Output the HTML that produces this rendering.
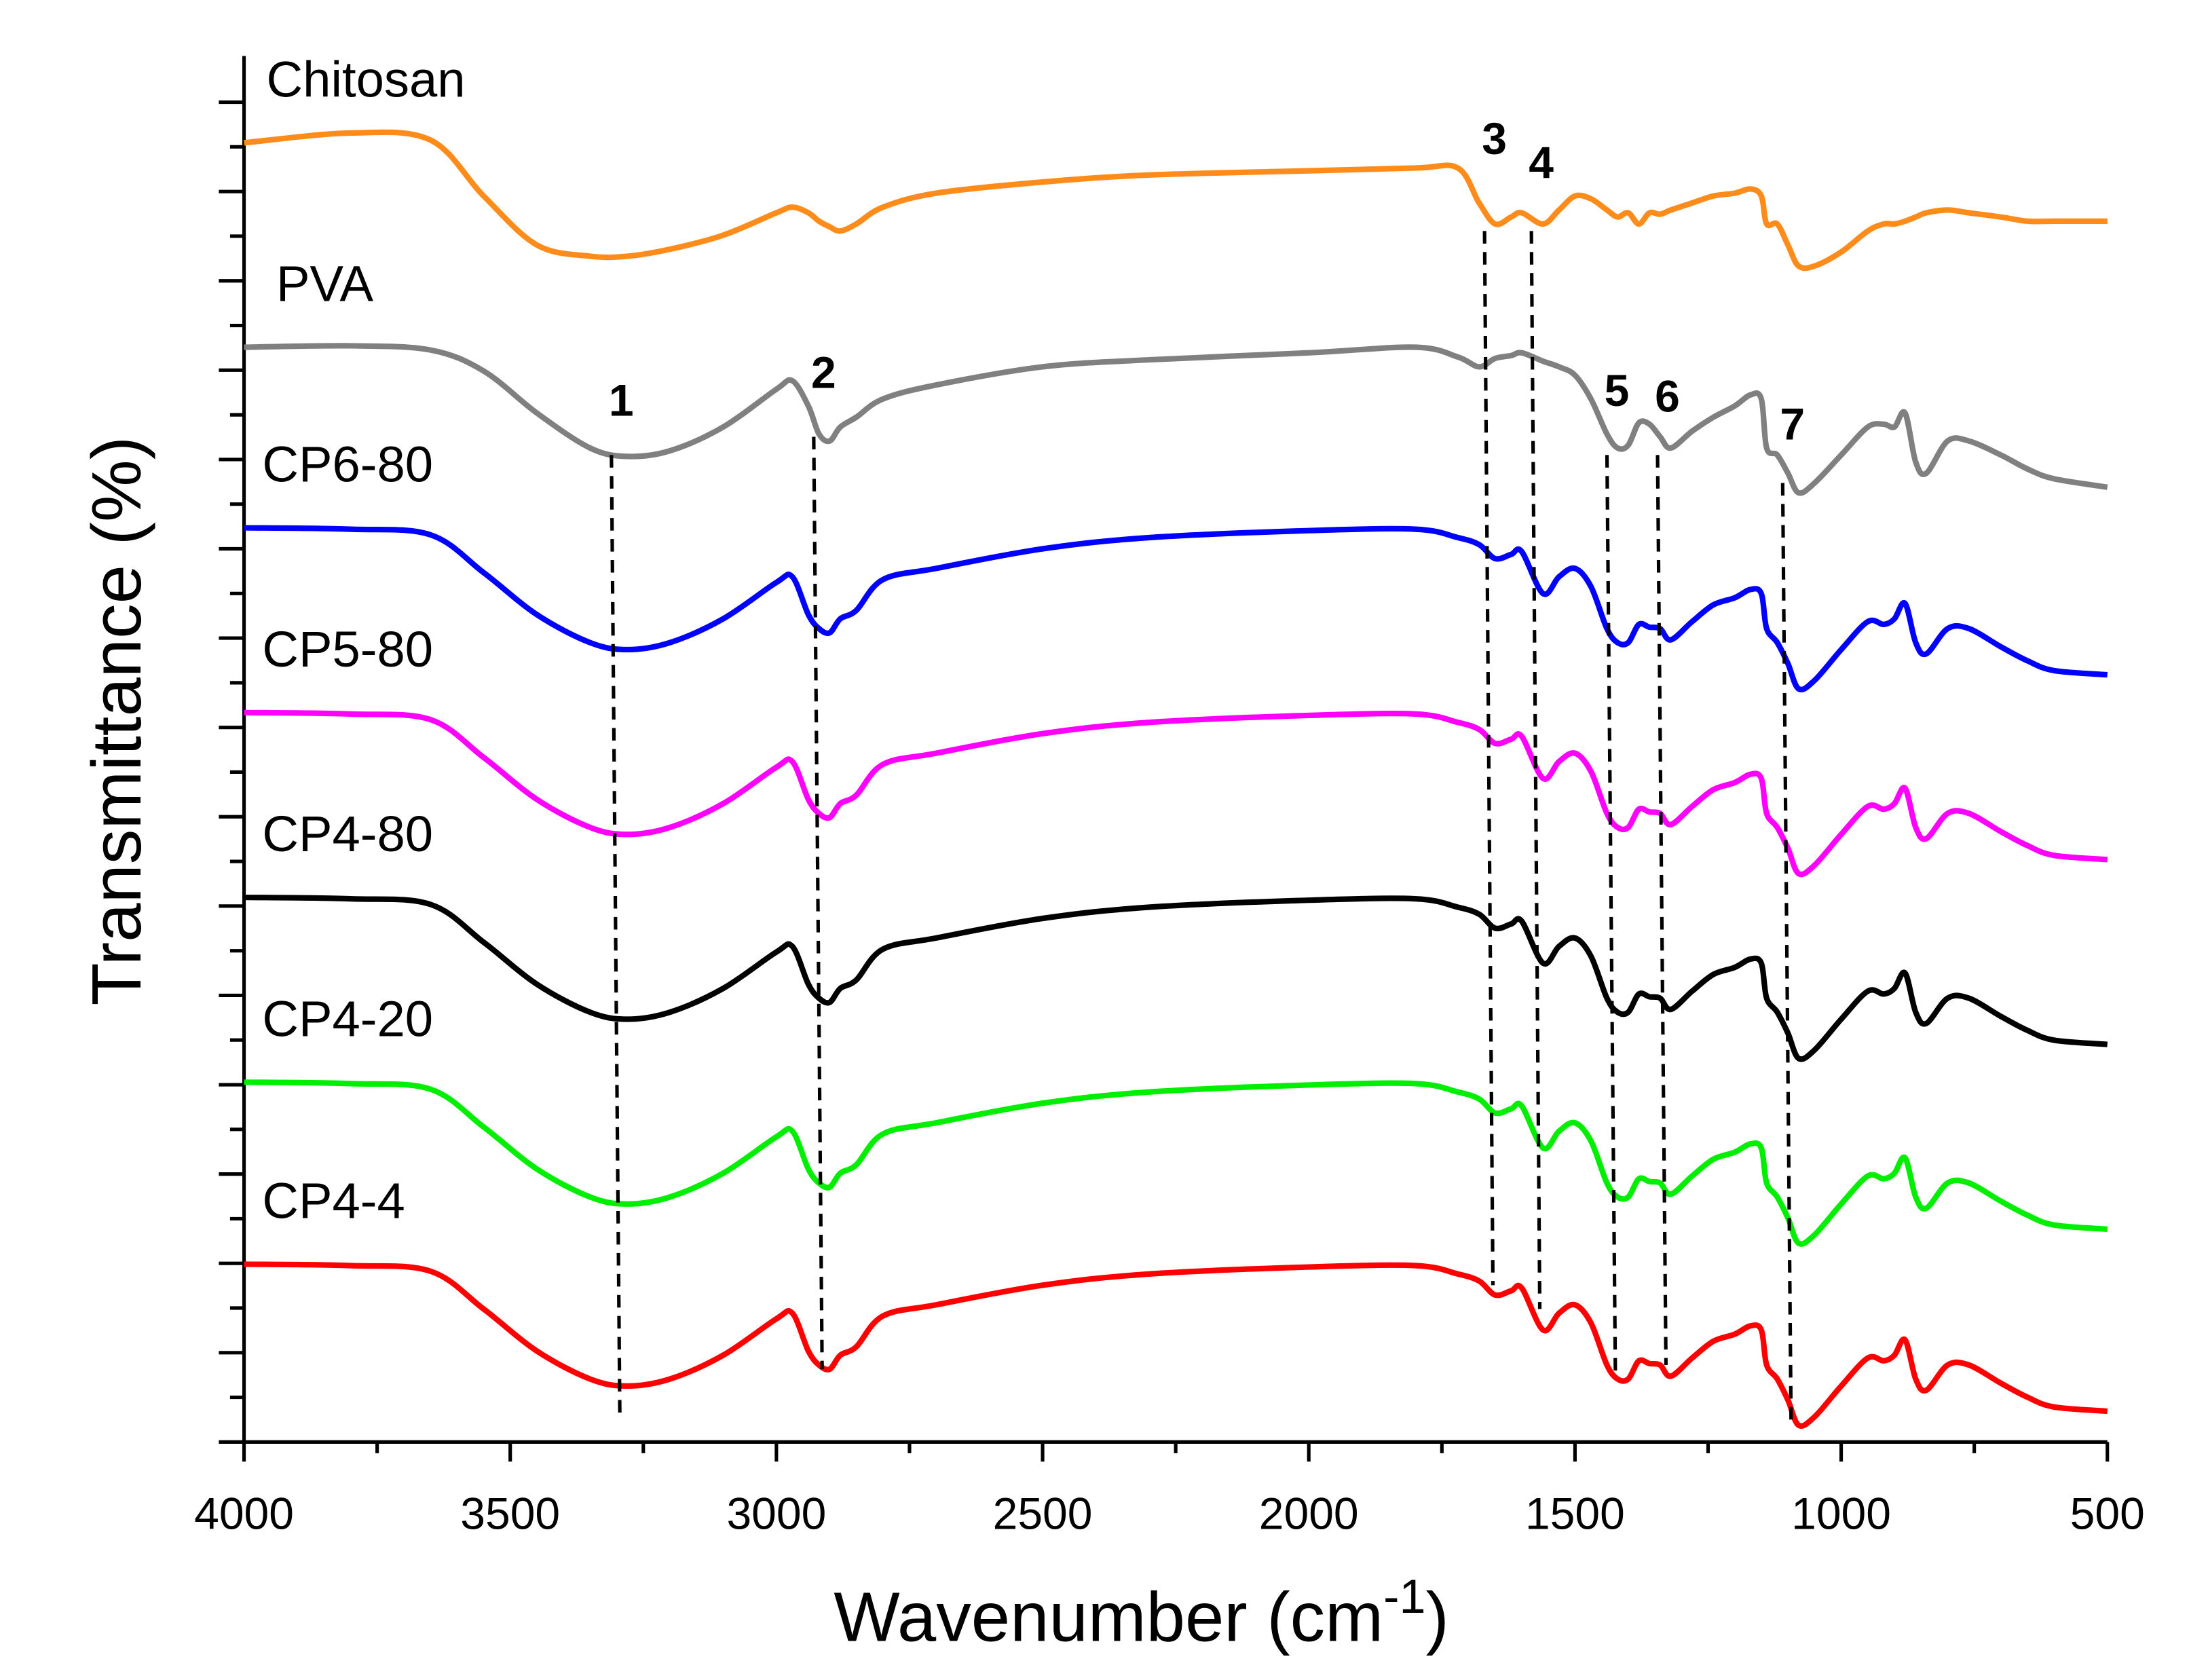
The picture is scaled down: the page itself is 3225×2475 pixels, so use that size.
<!DOCTYPE html>
<html><head><meta charset="utf-8"><style>
html,body{margin:0;padding:0;background:#fff;}
svg{display:block;font-family:"Liberation Sans",sans-serif;}
</style></head><body>
<svg id="chart" width="3225" height="2475" viewBox="0 0 1563 1200" xmlns="http://www.w3.org/2000/svg">
<rect width="1563" height="1200" fill="#fff"/>
<g id="axes"></g>
<g id="series"></g>
<g id="marks"></g>
<text x="815" y="1172" font-size="50" text-anchor="middle">Wavenumber (cm<tspan dy="-20" font-size="34">-1</tspan><tspan dy="20">)</tspan></text>
<text transform="translate(100,515) rotate(-90)" font-size="50" text-anchor="middle">Transmittance (%)</text>
</svg>
<script>
const wavenumbers=[4000,3800,3650,3550,3450,3350,3280,3200,3100,3000,2970,2940,2920,2900,2880,2850,2800,2700,2500,2300,2000,1800,1720,1680,1650,1620,1600,1560,1530,1500,1470,1440,1420,1400,1380,1360,1340,1320,1280,1240,1200,1170,1150,1140,1120,1100,1080,1050,1000,950,920,900,880,860,840,800,760,700,650,600,500];
const chitosan=[92.8,93.5,93.0,89.0,85.5,84.7,84.7,85.2,86.2,87.8,88.2,87.8,87.2,86.8,86.5,87.0,88.2,89.2,90.0,90.5,90.8,91.0,91.0,88.5,87.0,87.5,87.8,87.0,88.0,89.0,88.8,88.0,87.5,87.8,87.0,87.8,87.7,88.0,88.5,89.0,89.2,89.5,89.0,87.0,87.0,85.5,84.0,84.0,85.0,86.5,87.0,87.0,87.2,87.5,87.8,88.0,87.8,87.5,87.2,87.2,87.2];
const pva=[78.2,78.3,78.0,76.5,73.5,71.0,70.4,70.8,72.5,75.2,75.8,74.0,72.0,71.5,72.5,73.2,74.5,75.5,76.8,77.3,77.8,78.2,77.5,76.8,77.4,77.6,77.8,77.2,76.8,76.2,74.5,72.0,71.0,71.2,72.8,72.7,71.8,71.0,72.2,73.2,74.0,74.8,74.5,71.0,70.5,69.2,67.8,68.5,70.5,72.5,72.7,72.5,73.5,70.0,69.2,71.5,71.5,70.5,69.5,68.8,68.2];
const cp680=[65.3,65.2,64.8,62.1,59.1,57.1,56.6,57.1,58.8,61.4,61.8,59.1,58.1,57.8,58.8,59.4,61.6,62.4,63.8,64.6,65.1,65.2,64.6,64.1,63.1,63.4,63.6,60.6,61.8,62.4,61.1,58.1,57.1,57.1,58.4,58.2,58.1,57.3,58.6,59.8,60.3,60.9,60.6,58.1,57.1,55.6,53.8,54.4,56.6,58.6,58.4,58.8,59.9,57.1,56.3,58.1,58.1,56.8,55.8,55.1,54.8];
const cp580=[52.1,52.0,51.6,48.9,45.9,43.9,43.4,43.9,45.6,48.2,48.6,45.9,44.9,44.6,45.6,46.2,48.4,49.2,50.6,51.4,51.9,52.0,51.4,50.9,49.9,50.2,50.4,47.4,48.6,49.2,47.9,44.9,43.9,43.9,45.2,45.0,44.9,44.1,45.4,46.6,47.1,47.7,47.4,44.9,43.9,42.4,40.6,41.2,43.4,45.4,45.2,45.6,46.7,43.9,43.1,44.9,44.9,43.6,42.6,41.9,41.6];
const cp480=[38.9,38.8,38.4,35.7,32.7,30.7,30.2,30.7,32.4,35.0,35.4,32.7,31.7,31.4,32.4,33.0,35.2,36.0,37.4,38.2,38.7,38.8,38.2,37.7,36.7,37.0,37.2,34.2,35.4,36.0,34.7,31.7,30.7,30.7,32.0,31.8,31.7,30.9,32.2,33.4,33.9,34.5,34.2,31.7,30.7,29.2,27.4,28.0,30.2,32.2,32.0,32.4,33.5,30.7,29.9,31.7,31.7,30.4,29.4,28.7,28.4];
const cp420=[25.7,25.6,25.2,22.5,19.5,17.5,17.0,17.5,19.2,21.8,22.2,19.5,18.5,18.2,19.2,19.8,22.0,22.8,24.2,25.0,25.5,25.6,25.0,24.5,23.5,23.8,24.0,21.0,22.2,22.8,21.5,18.5,17.5,17.5,18.8,18.6,18.5,17.7,19.0,20.2,20.7,21.3,21.0,18.5,17.5,16.0,14.2,14.8,17.0,19.0,18.8,19.2,20.3,17.5,16.7,18.5,18.5,17.2,16.2,15.5,15.2];
const cp44=[12.7,12.6,12.2,9.5,6.5,4.5,4.0,4.5,6.2,8.8,9.2,6.5,5.5,5.2,6.2,6.8,9.0,9.8,11.2,12.0,12.5,12.6,12.0,11.5,10.5,10.8,11.0,8.0,9.2,9.8,8.5,5.5,4.5,4.5,5.8,5.6,5.5,4.7,6.0,7.2,7.7,8.3,8.0,5.5,4.5,3.0,1.2,1.8,4.0,6.0,5.8,6.2,7.3,4.5,3.7,5.5,5.5,4.2,3.2,2.5,2.2];
const seriesNames=["Chitosan","PVA","CP6-80","CP5-80","CP4-80","CP4-20","CP4-4"];
const xTicks=[4000,3500,3000,2500,2000,1500,1000,500];
const peakLabels=["1","2","3","4","5","6","7"];
const peakWn=[3302,2922,1662,1574,1432,1337,1102];

const NS="http://www.w3.org/2000/svg";
const X0=174,X1=1505,Y0=1030,Y1=40;
const xs=w=>X0+(4000-w)/3500*(X1-X0);
const ys=v=>Y0-v/99*(Y0-Y1);
function mk(tag,attrs,parent){const e=document.createElementNS(NS,tag);for(const k in attrs)e.setAttribute(k,attrs[k]);parent.appendChild(e);return e;}
const axes=document.getElementById('axes');
let el=mk('line',{x1:X0,y1:Y1,x2:X0,y2:Y0,stroke:'#000','stroke-width':2.5},axes);


el=mk('line',{x1:X0,y1:Y0,x2:X1,y2:Y0,stroke:'#000','stroke-width':2.5},axes);


for(let i=0;i<=30;i++){const y=Y0-i*31.9;if(y<Y1)break;const major=i%2===0;
 el=mk('line',{x1:X0-(major?18:10),y1:y,x2:X0,y2:y,stroke:'#000','stroke-width':2.5},axes);
 
 }
for(let w=4000;w>=500;w-=250){const major=w%500===0;
 el=mk('line',{x1:xs(w),y1:Y0,x2:xs(w),y2:Y0+(major?14:8),stroke:'#000','stroke-width':2.5},axes);
 
 }
xTicks.forEach(t=>{el=mk('text',{x:xs(t),y:1092,'font-size':32,'text-anchor':'middle'},axes);el.textContent=t;
 
 });
const allSeries=[chitosan,pva,cp680,cp580,cp480,cp420,cp44];
const colors=["#ff8c1a","#808080","#0000ff","#ff00ff","#000000","#00ee00","#ff0000"];
const g=document.getElementById('series');
function pathFor(vals){const p=wavenumbers.map((w,i)=>[xs(w),ys(vals[i])]);let d="M"+p[0][0]+","+p[0][1];
 for(let i=0;i<p.length-1;i++){const a=p[Math.max(0,i-1)],b=p[i],c=p[i+1],e=p[Math.min(p.length-1,i+2)];
  d+=` C${b[0]+(c[0]-a[0])/6},${b[1]+(c[1]-a[1])/6} ${c[0]-(e[0]-b[0])/6},${c[1]-(e[1]-b[1])/6} ${c[0]},${c[1]}`;}return d;}
allSeries.forEach((vals,i)=>{el=mk('path',{d:pathFor(vals),fill:'none',stroke:colors[i],'stroke-width':4,'stroke-linejoin':'round'},g);
 
 
 const t=mk('text',{x:i===0?190:(i===1?197:187),y:ys(vals[0])-33,'font-size':36},g);t.textContent=seriesNames[i];
 
 });
const m=document.getElementById('marks');
const peakTop=[325,312,165,165,325,325,345];
const peakBot=[1010,978,918,935,982,975,1015];
const labelY=[297,277,110,127,290,294,314];
peakWn.forEach((w,i)=>{const x=xs(w);
 el=mk('line',{x1:x-3,y1:peakTop[i],x2:x+3,y2:peakBot[i],stroke:'#000','stroke-width':2.5,'stroke-dasharray':'9,6'},m);
 
 
 el=mk('text',{x:x+4,y:labelY[i],'font-size':32,'font-weight':'bold','text-anchor':'middle'},m);el.textContent=peakLabels[i];
 
 });
</script>
</body></html>
